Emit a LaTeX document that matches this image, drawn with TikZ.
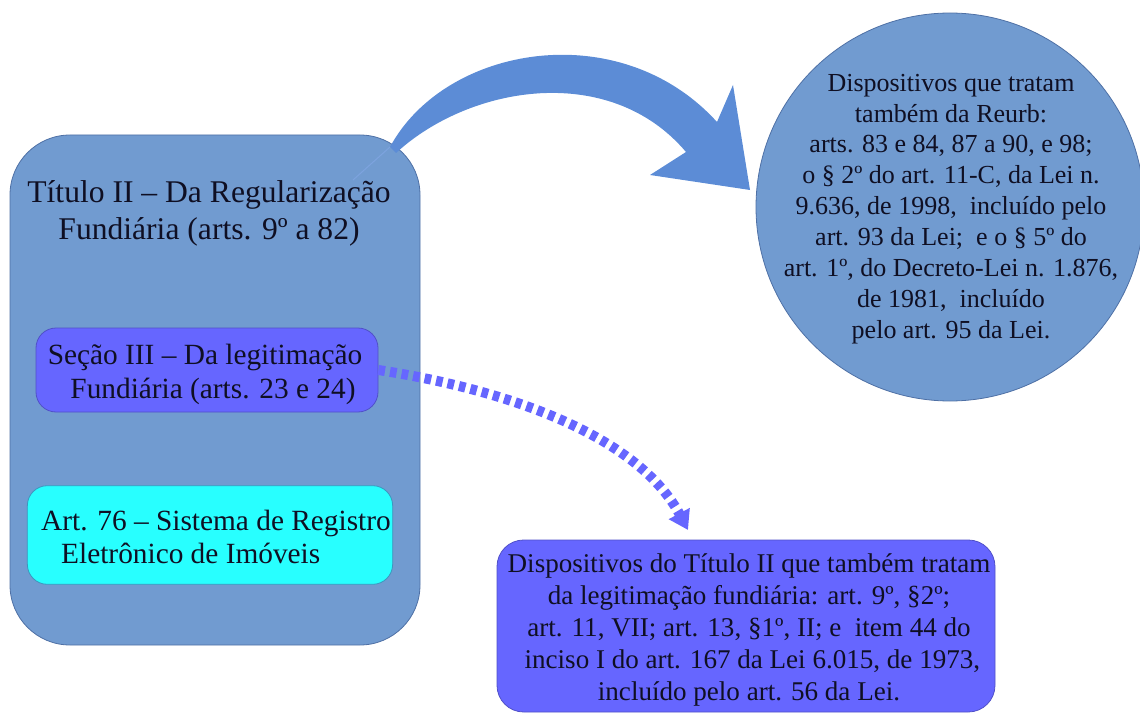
\documentclass[tikz,border=0pt]{standalone}
\usepackage{fontspec}
\setmainfont{Liberation Serif}
\usetikzlibrary{arrows.meta}
\definecolor{bigblue}{RGB}{113,155,208}
\definecolor{bigedge}{RGB}{78,112,165}
\definecolor{arrowblue}{RGB}{92,140,214}
\definecolor{violetbox}{RGB}{102,102,255}
\definecolor{violetedge}{RGB}{80,80,200}
\definecolor{cyanbox}{RGB}{40,255,255}
\definecolor{cyanedge}{RGB}{60,150,190}
\definecolor{txt}{RGB}{15,15,35}
\tikzset{
  panel/.style={draw=bigedge, line width=0.6pt, fill=bigblue, rounded corners=45pt},
  subbox/.style={draw=violetedge, line width=0.6pt, fill=violetbox, rounded corners=15pt},
  cyanstyle/.style={draw=cyanedge, line width=0.6pt, fill=cyanbox, rounded corners=15pt},
  txtnode/.style={text=txt, align=center, inner sep=0pt},
}
\begin{document}
\begin{tikzpicture}[x=0.75pt,y=-0.75pt]
\useasboundingbox (0,0) rectangle (1140,717);
% big panel
\node[panel, minimum width=307.5pt, minimum height=382.5pt] (titulo) at (215,390) {};
\node[txtnode, font=\fontsize{23.7}{27.75}\selectfont] (titulotxt) at (209,213) {Título II – Da Regularização\\Fundiária (arts. 9º a 82)};
% secao box
\node[subbox, minimum width=256.5pt, minimum height=63pt] (secao) at (207,370) {};
\node[txtnode, font=\fontsize{22}{25.5}\selectfont] (secaotxt) at (205,374) {Seção III – Da legitimação\\\hspace*{12pt}Fundiária (arts. 23 e 24)};
% art 76 box
\node[cyanstyle, minimum width=274pt, minimum height=74pt] (art) at (210,535) {};
\node[txtnode, align=left, font=\fontsize{22}{25}\selectfont] (arttxt) at (216,537) {Art. 76 – Sistema de Registro\\\hspace*{15pt}Eletrônico de Imóveis};
% circle
\node[circle, draw=bigedge, line width=0.6pt, fill=bigblue, minimum size=291pt, inner sep=0pt] (reurb) at (950,207) {};
\node[txtnode, font=\fontsize{19.5}{23.2}\selectfont] (reurbtxt) at (951,209) {Dispositivos que tratam\\também da Reurb:\\arts. 83 e 84, 87 a 90, e 98;\\o § 2º do art. 11-C, da Lei n.\\9.636, de 1998,\ \ incluído pelo\\art. 93 da Lei;\ \ e o § 5º do\\art. 1º, do Decreto-Lei n. 1.876,\\de 1981,\ \ incluído\\pelo art. 95 da Lei.};
% bottom box
\node[subbox, rounded corners=20pt, minimum width=373.5pt, minimum height=129pt] (legit) at (746,626) {};
\node[txtnode, font=\fontsize{20.3}{24}\selectfont] (legittxt) at (749,630) {Dispositivos do Título II que também tratam\\da legitimação fundiária: art. 9º, §2º;\\art. 11, VII; art. 13, §1º, II; e\ \ item 44 do\\\ inciso I do art. 167 da Lei 6.015, de 1973,\\incluído pelo art. 56 da Lei.};
% big curved arrow
\coordinate (tail) at (390,147);
\coordinate (tip) at (750,190);
\draw[arrowblue!80, line width=0.8pt] (353,180) -- (tail);
\fill[arrowblue] (tail) .. controls (445,45) and (620,15) .. (717,122)
  -- (733,85) -- (tip) -- (650,175) -- (686,152)
  .. controls (610,62) and (470,85) .. (396,153) -- cycle;
% dotted arrow
\draw[violetbox, line width=7.5pt, dash pattern=on 5pt off 3.8pt,
  -{Triangle[length=14pt,width=17pt]}]
  (secao.east) .. controls (520,392) and (640,440) .. (688,530);
\end{tikzpicture}
\end{document}
